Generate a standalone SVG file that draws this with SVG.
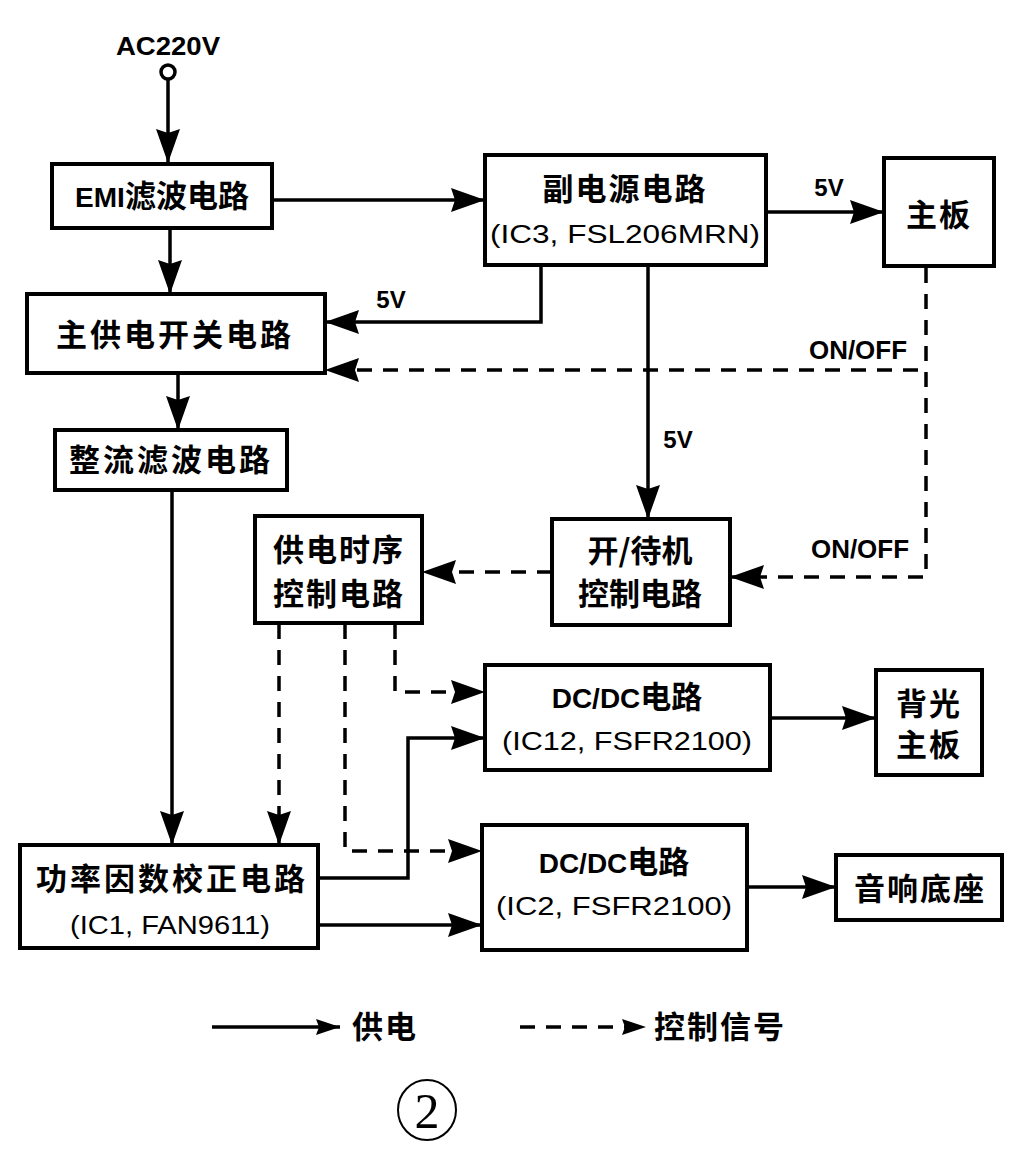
<svg xmlns="http://www.w3.org/2000/svg" width="1022" height="1173" viewBox="0 0 1022 1173">
<style>
.box{fill:#fff;stroke:#000;stroke-width:4}
.ln{fill:none;stroke:#000;stroke-width:3.5}
.ds{fill:none;stroke:#000;stroke-width:3.5;stroke-dasharray:15 11}
.cn{font-family:"Noto Sans CJK SC","Noto Sans",sans-serif;font-weight:bold;font-size:31px;fill:#000;text-anchor:middle}
.lt{font-family:"Liberation Sans","DejaVu Sans",sans-serif;font-size:26px;fill:#000;text-anchor:middle}
.lb{font-family:"Liberation Sans","DejaVu Sans",sans-serif;font-weight:bold;font-size:24px;fill:#000;text-anchor:middle}
</style>
<defs>
<marker id="ah" markerUnits="userSpaceOnUse" markerWidth="36" markerHeight="26" refX="34" refY="12" orient="auto">
<path d="M0,0 L34,12 L0,24 L4,12 Z" fill="#000"/>
</marker>
<marker id="ahs" markerUnits="userSpaceOnUse" markerWidth="26" markerHeight="18" refX="24" refY="8" orient="auto">
<path d="M0,0 L24,8 L0,16 L3,8 Z" fill="#000"/>
</marker>
</defs>
<rect width="1022" height="1173" fill="#fff"/>

<g id="connectors">
<line class="ln" x1="168" y1="80" x2="168" y2="163" marker-end="url(#ah)"/>
<line class="ln" x1="272" y1="200" x2="485" y2="200" marker-end="url(#ah)"/>
<line class="ln" x1="170" y1="228" x2="170" y2="294" marker-end="url(#ah)"/>
<polyline class="ln" points="541,265 541,322 325,322" marker-end="url(#ah)"/>
<polyline class="ds" points="926,268 926,577 730,577" marker-end="url(#ah)"/>
<line class="ds" x1="918" y1="370" x2="325" y2="370" marker-end="url(#ah)"/>
<line class="ln" x1="648" y1="265" x2="648" y2="519" marker-end="url(#ah)"/>
<line class="ln" x1="178" y1="373" x2="178" y2="430" marker-end="url(#ah)"/>
<line class="ln" x1="172" y1="490" x2="172" y2="845" marker-end="url(#ah)"/>
<line class="ds" x1="552" y1="572" x2="422" y2="572" marker-end="url(#ah)"/>
<line class="ds" x1="279" y1="624" x2="279" y2="845" marker-end="url(#ah)"/>
<polyline class="ds" points="345,624 345,851 482,851" marker-end="url(#ah)"/>
<polyline class="ds" points="395,624 395,692 485,692" marker-end="url(#ah)"/>
<polyline class="ln" points="318,878 408,878 408,738 485,738" marker-end="url(#ah)"/>
<line class="ln" x1="318" y1="925" x2="482" y2="925" marker-end="url(#ah)"/>
<line class="ln" x1="770" y1="718" x2="876" y2="718" marker-end="url(#ah)"/>
<line class="ln" x1="747" y1="887" x2="836" y2="887" marker-end="url(#ah)"/>
<line class="ln" x1="766" y1="212" x2="884" y2="212" marker-end="url(#ah)"/>
</g>

<g id="labels">
<text class="lt" x="168" y="55" font-weight="bold" textLength="104" lengthAdjust="spacingAndGlyphs">AC220V</text>
<circle cx="168" cy="72" r="7" fill="#fff" stroke="#000" stroke-width="3.5"/>
<text class="lb" x="391" y="308">5V</text>
<text class="lb" x="829" y="196">5V</text>
<text class="lb" x="678" y="448">5V</text>
<text class="lt" x="858" y="359" font-weight="bold" textLength="98" lengthAdjust="spacingAndGlyphs">ON/OFF</text>
<text class="lt" x="860" y="558" font-weight="bold" textLength="98" lengthAdjust="spacingAndGlyphs">ON/OFF</text>
</g>

<g id="emi">
<rect class="box" x="52" y="164" width="220" height="64"/>
<text class="cn" x="162" y="207"><tspan font-family="Liberation Sans" font-size="28">EMI</tspan>滤波电路</text>
</g>
<g id="main-switch">
<rect class="box" x="27" y="294" width="298" height="79"/>
<text class="cn" x="175" y="346" letter-spacing="3">主供电开关电路</text>
</g>
<g id="rectifier">
<rect class="box" x="55" y="430" width="232" height="60"/>
<text class="cn" x="171" y="471" letter-spacing="3">整流滤波电路</text>
</g>
<g id="aux-power">
<rect class="box" x="485" y="155" width="281" height="110"/>
<text class="cn" x="625" y="200" letter-spacing="2">副电源电路</text>
<text class="lt" x="625" y="243" textLength="270" lengthAdjust="spacingAndGlyphs">(IC3, FSL206MRN)</text>
</g>
<g id="mainboard">
<rect class="box" x="884" y="158" width="110" height="108"/>
<text class="cn" x="939" y="226" font-weight="normal" letter-spacing="2">主板</text>
</g>
<g id="standby">
<rect class="box" x="552" y="519" width="178" height="106"/>
<text class="cn" x="640" y="562" font-size="30">开/待机</text>
<text class="cn" x="640" y="605" font-size="30">控制电路</text>
</g>
<g id="sequence">
<rect class="box" x="255" y="516" width="167" height="107"/>
<text class="cn" x="339" y="561" font-size="30" letter-spacing="2">供电时序</text>
<text class="cn" x="339" y="605" font-size="30" letter-spacing="2">控制电路</text>
</g>
<g id="pfc">
<rect class="box" x="20" y="845" width="298" height="103"/>
<text class="cn" x="172" y="890" letter-spacing="3">功率因数校正电路</text>
<text class="lt" x="170" y="934" textLength="200" lengthAdjust="spacingAndGlyphs">(IC1, FAN9611)</text>
</g>
<g id="dcdc1">
<rect class="box" x="485" y="665" width="285" height="105"/>
<text class="cn" x="627" y="708"><tspan font-family="Liberation Sans" font-size="28">DC/DC</tspan>电路</text>
<text class="lt" x="627" y="750" textLength="250" lengthAdjust="spacingAndGlyphs">(IC12, FSFR2100)</text>
</g>
<g id="backlight">
<rect class="box" x="876" y="670" width="106" height="105"/>
<text class="cn" x="929" y="715" font-weight="normal" letter-spacing="2">背光</text>
<text class="cn" x="929" y="756" font-weight="normal" letter-spacing="2">主板</text>
</g>
<g id="dcdc2">
<rect class="box" x="482" y="825" width="265" height="125"/>
<text class="cn" x="614" y="873"><tspan font-family="Liberation Sans" font-size="28">DC/DC</tspan>电路</text>
<text class="lt" x="614" y="915" textLength="236" lengthAdjust="spacingAndGlyphs">(IC2, FSFR2100)</text>
</g>
<g id="audio">
<rect class="box" x="836" y="855" width="166" height="65"/>
<text class="cn" x="920" y="900" font-weight="normal" letter-spacing="2">音响底座</text>
</g>

<g id="legend">
<line class="ln" x1="212" y1="1027" x2="340" y2="1027" stroke-width="3" marker-end="url(#ahs)"/>
<text class="cn" x="385" y="1038" font-size="28" letter-spacing="2">供电</text>
<line class="ds" x1="520" y1="1027" x2="646" y2="1027" stroke-width="3" stroke-dasharray="13 10" marker-end="url(#ahs)"/>
<text class="cn" x="720" y="1038" font-size="28" letter-spacing="2">控制信号</text>
<ellipse cx="427" cy="1110" rx="29" ry="30" fill="none" stroke="#000" stroke-width="2"/>
<text x="427" y="1128" font-family="Liberation Serif,serif" font-size="50" text-anchor="middle">2</text>
</g>
</svg>
